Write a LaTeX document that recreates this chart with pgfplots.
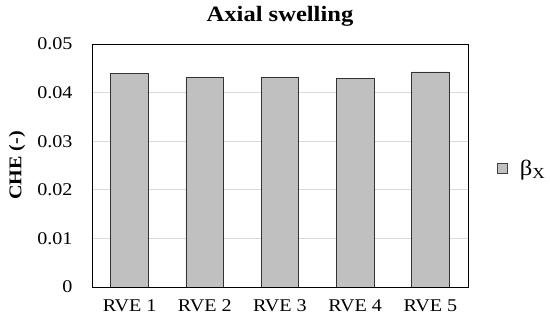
\documentclass[border=0pt]{standalone}
\usepackage{fontspec}
\setmainfont[FakeStretch=1.12]{Liberation Serif}
\usepackage{pgfplots}
\pgfplotsset{compat=1.18}
\definecolor{barfill}{RGB}{192,192,192}
\definecolor{gridc}{RGB}{217,217,217}
\begin{document}
\begin{tikzpicture}
\useasboundingbox (0,0) rectangle (550bp,327bp);
\begin{axis}[
  at={(92bp,40bp)}, anchor=south west,
  scale only axis,
  width=376bp, height=243bp,
  xmin=-0.5, xmax=4.5,
  ymin=0, ymax=0.05,
  scaled y ticks=false,
  xtick={0,1,2,3,4},
  xticklabels={RVE 1,RVE 2,RVE 3,RVE 4,RVE 5},
  ytick={0,0.01,0.02,0.03,0.04,0.05},
  yticklabels={0,0.01,0.02,0.03,0.04,0.05},
  major tick length=0pt,
  ymajorgrids,
  grid style={gridc, line width=0.8pt},
  axis line style={black, line width=0.8pt},
  tick label style={font=\fontsize{18}{21}\selectfont},
  xticklabel style={yshift=-9bp},
  yticklabel style={xshift=-16bp},
  ylabel={\bfseries CHE (-)},
  ylabel style={font=\fontsize{18}{21}\selectfont, at={(axis description cs:0,0.5)}, anchor=center, yshift=75bp},
  title={\bfseries Axial swelling},
  title style={font=\fontsize{22}{25}\selectfont, yshift=8bp},
  legend style={draw=none, at={(1,0.5)}, anchor=west, xshift=26bp, yshift=-3bp, font=\fontsize{22}{24}\selectfont},
  legend image code/.code={\draw[fill=barfill, draw=black!75, line width=0.8pt] (0bp,-5bp) rectangle (10bp,5bp); \path (20bp,0bp);},
]
\addplot[ybar, bar width=0.5, fill=barfill, draw=black!80, line width=0.8pt] coordinates {
  (0,0.04403) (1,0.04307) (2,0.04307) (3,0.04294) (4,0.04424)
};
\addlegendentry{β\textsubscript{X}}
\end{axis}
\end{tikzpicture}
\end{document}
